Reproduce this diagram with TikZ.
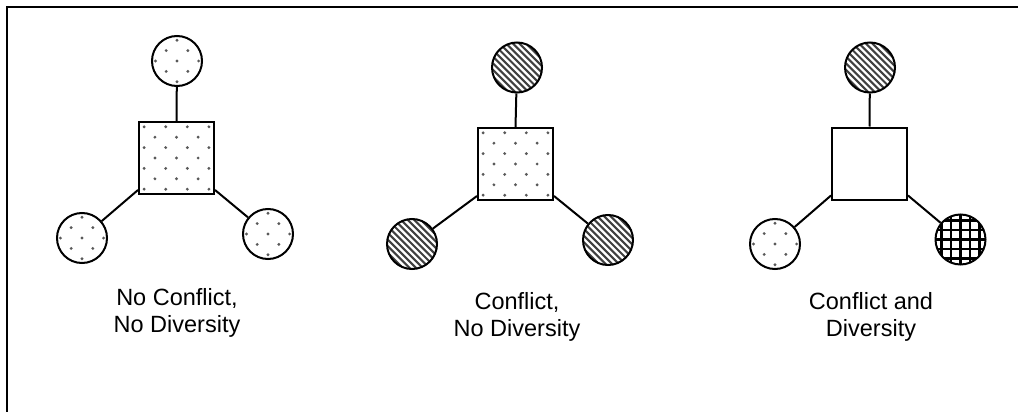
\documentclass[tikz,border=0pt]{standalone}
\usepackage{fontspec}
\setmainfont{Liberation Sans}
\usetikzlibrary{calc}
\begin{document}
\begin{tikzpicture}[x=1pt,y=-1pt,
  outline/.style={draw=black,line width=2pt},
  hub/.style={outline,rectangle,minimum width=75pt,minimum height=72pt,inner sep=0pt},
  member/.style={outline,circle,minimum size=50pt,inner sep=0pt},
  link/.style={line width=2pt},
  caption/.style={align=center,font=\fontsize{23.5}{27}\selectfont},
  frameline/.style={line width=2pt}]
\useasboundingbox (0,0) rectangle (1018,412);
\draw[frameline] (1018,7) -- (7,7) -- (7,412);

% --- fill patterns, drawn inside a clip ---
\newcommand\fillDotted[1]{%
  \foreach \i in {-4,...,4}{\foreach \j in {-4,...,4}{%
    \pgfmathtruncatemacro\parity{mod(\i+\j+20,2)}%
    \ifnum\parity=0 \fill[black!65] ($(#1)+(\i*10.8,\j*10.4)$) circle (1.6);\fi}}}
\newcommand\fillStriped[1]{%
  \foreach \k in {-12,...,12}{%
    \draw[black!75,line width=2.1pt] ($(#1)+(\k*6.6-40,-40)$) -- ++(80,80);}}
\newcommand\fillChecked[1]{%
  \foreach \k in {-3,...,3}{%
    \draw[black,line width=2.4pt] ($(#1)+(\k*9.5,-30)$) -- ++(0,60);
    \draw[black,line width=2.4pt] ($(#1)+(-30,\k*9.5)$) -- ++(60,0);}}
\newcommand\patternCircle[2]{\begin{scope}\clip (#1) circle (25); #2{#1}\end{scope}}

% --- positions ---
\coordinate (a)  at (176.5,158);
\coordinate (at) at (177,61);
\coordinate (al) at (82,238);
\coordinate (ar) at (268,234);
\coordinate (b)  at (515.5,164);
\coordinate (bt) at (517,67.5);
\coordinate (bl) at (412,244);
\coordinate (br) at (608,240);
\coordinate (c)  at (869.5,163.5);
\coordinate (ct) at (870,67.5);
\coordinate (cl) at (775,244);
\coordinate (cr) at (960.5,239.5);

% --- pattern fills ---
\begin{scope}\clip ($(a)+(-37.5,-36)$) rectangle ($(a)+(37.5,36)$); \fillDotted{a}\end{scope}
\begin{scope}\clip ($(b)+(-37.5,-36)$) rectangle ($(b)+(37.5,36)$); \fillDotted{b}\end{scope}
\patternCircle{at}{\fillDotted}
\patternCircle{al}{\fillDotted}
\patternCircle{ar}{\fillDotted}
\patternCircle{bt}{\fillStriped}
\patternCircle{bl}{\fillStriped}
\patternCircle{br}{\fillStriped}
\patternCircle{ct}{\fillStriped}
\patternCircle{cl}{\fillDotted}
\patternCircle{cr}{\fillChecked}

% --- outlines ---
\foreach \p in {a,b,c}{%
  \node[hub] (\p h) at (\p) {};
  \node[member] (\p T) at (\p t) {};
  \node[member] (\p L) at (\p l) {};
  \node[member] (\p R) at (\p r) {};
  \draw[link] (\p T) -- (\p h.north);
  \draw[link] ($(\p h.south west)+(0,-5)$) -- (\p L);
  \draw[link] ($(\p h.south east)+(0,-5)$) -- (\p R);
}

% --- captions ---
\node[caption] (ta) at (177,313) {No Conflict,\\No Diversity};
\node[caption] (tb) at (517,317) {Conflict,\\No Diversity};
\node[caption] (tc) at (871,317) {Conflict and\\Diversity};
\end{tikzpicture}
\end{document}
